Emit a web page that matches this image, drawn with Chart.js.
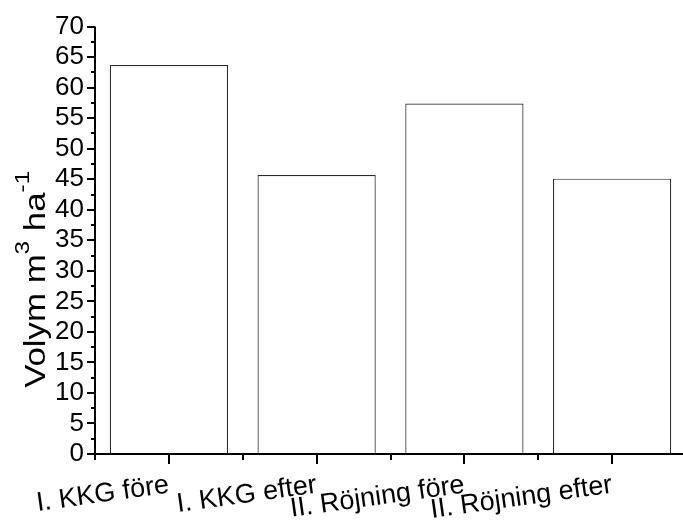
<!DOCTYPE html>
<html>
<head>
<meta charset="utf-8">
<script src="https://cdn.jsdelivr.net/npm/chart.js@4/dist/chart.umd.min.js"></script>
<style>
  html, body { margin: 0; padding: 0; background: #fff; overflow: hidden; }
  canvas { display: block; }
</style>
</head>
<body>
<canvas id="c" width="688" height="525" style="width:688px;height:525px"></canvas>
<script>
// Stand volume per treatment
const categories = ['I. KKG före', 'I. KKG efter', 'II. Röjning före', 'II. Röjning efter'];
const volume = [63.7, 45.7, 57.4, 45.1];

// Value axis
const yMin = 0;
const yMax = 70;
const yStep = 5;

// Axis title pieces: [text, superscript?]
const yTitleParts = [['Volym m', false], ['3', true], [' ha', false], ['-1', true]];

const FONT = '"Liberation Sans", Arial, Helvetica, sans-serif';

// Axis lines plus major/minor tick marks, drawn on top of the bars
const axesOverlay = {
  id: 'axesOverlay',
  afterDraw(chart) {
    const ctx = chart.ctx;
    const xs = chart.scales.x, ys = chart.scales.y;
    const { left, right, top, bottom } = chart.chartArea;
    ctx.save();
    ctx.strokeStyle = '#000';
    ctx.lineWidth = 2;
    ctx.lineCap = 'butt';
    ctx.beginPath();
    // axis lines
    ctx.moveTo(left, top);
    ctx.lineTo(left, bottom + 1);
    ctx.moveTo(left - 1, bottom);
    ctx.lineTo(right, bottom);
    // y ticks: major every step, minor halfway
    for (let v = yMin; v <= yMax + 1e-9; v += yStep / 2) {
      const p = Math.round(ys.getPixelForValue(v));
      const major = Math.abs(v / yStep - Math.round(v / yStep)) < 1e-6;
      ctx.moveTo(left, p);
      ctx.lineTo(left - (major ? 8 : 4), p);
    }
    // x ticks: major at category centres, minor at boundaries
    for (let i = 0; i < categories.length; i++) {
      const c = Math.round(xs.getPixelForValue(i));
      ctx.moveTo(c, bottom);
      ctx.lineTo(c, bottom + 10);
      const b = Math.round(xs.getPixelForValue(i - 0.5));
      ctx.moveTo(b, bottom);
      ctx.lineTo(b, bottom + 6);
    }
    ctx.stroke();
    ctx.restore();
  }
};

// Rotated y-axis title with superscripts (slightly widened lettering)
const yTitle = {
  id: 'yTitle',
  afterDraw(chart) {
    const ctx = chart.ctx;
    const base = 30, sup = 21, raise = 16, widen = 1.16;
    ctx.save();
    let total = 0;
    const widths = yTitleParts.map(([t, s]) => {
      ctx.font = (s ? sup : base) + 'px ' + FONT;
      const w = ctx.measureText(t).width;
      total += w;
      return w;
    });
    const ca = chart.chartArea;
    const cx = 45;
    const cy = (ca.top + ca.bottom) / 2 + 39;
    ctx.translate(cx, cy);
    ctx.rotate(-Math.PI / 2);
    ctx.scale(widen, 1);
    ctx.fillStyle = '#000';
    ctx.textBaseline = 'alphabetic';
    ctx.textAlign = 'left';
    let xp = -total / 2;
    yTitleParts.forEach(([t, s], i) => {
      ctx.font = (s ? sup : base) + 'px ' + FONT;
      ctx.fillText(t, xp, s ? -raise : 0);
      xp += widths[i];
    });
    ctx.restore();
  }
};

new Chart(document.getElementById('c'), {
  type: 'bar',
  data: {
    labels: categories,
    datasets: [{
      data: volume,
      backgroundColor: '#ffffff',
      borderColor: '#2a2a2a',
      borderWidth: 1.2,
      barPercentage: 0.8,
      categoryPercentage: 1.0
    }]
  },
  options: {
    responsive: false,
    animation: false,
    devicePixelRatio: 1,
    layout: { padding: { top: 24, right: 2, bottom: 0, left: 0 } },
    plugins: {
      legend: { display: false },
      tooltip: { enabled: false }
    },
    scales: {
      x: {
        grid: { display: false, drawTicks: false },
        border: { display: false },
        ticks: {
          color: '#000',
          font: { family: FONT, size: 27 },
          minRotation: 8,
          maxRotation: 8,
          autoSkip: false,
          padding: 15
        },
        afterFit(scale) { scale.height = 71; }
      },
      y: {
        min: yMin,
        max: yMax,
        grid: { display: false, drawTicks: false },
        border: { display: false },
        ticks: {
          stepSize: yStep,
          autoSkip: false,
          color: '#000',
          font: { family: FONT, size: 26 },
          padding: 11
        },
        afterFit(scale) { scale.width = 95; }
      }
    }
  },
  plugins: [axesOverlay, yTitle]
});
</script>
</body>
</html>
